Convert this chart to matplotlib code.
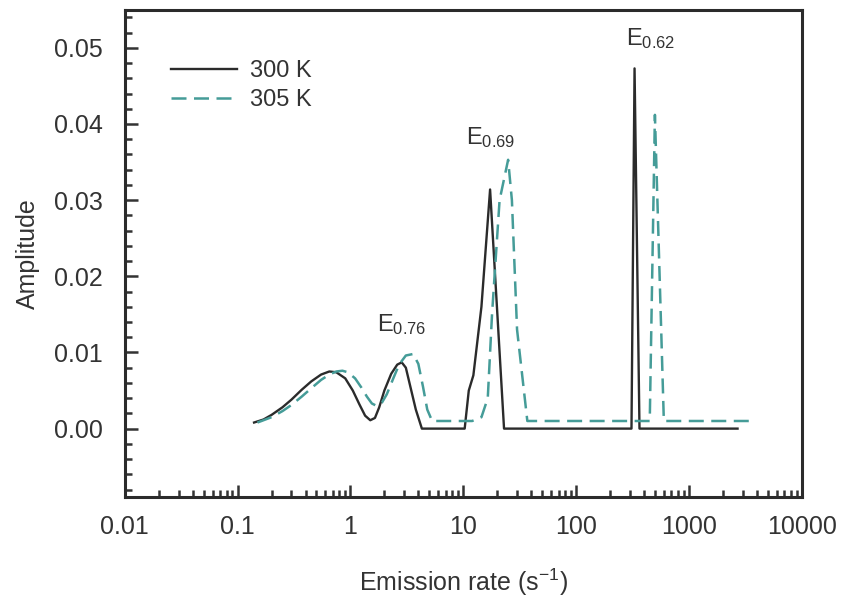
import numpy as np
import matplotlib
matplotlib.use("Agg")
from matplotlib import pyplot as plt
from matplotlib.ticker import (MultipleLocator, LogLocator, FixedLocator,
                               FixedFormatter, NullFormatter, FormatStrFormatter)

# 300 K curve (solid black)
rate_300 = [0.14, 0.17, 0.2, 0.25, 0.3, 0.37, 0.45, 0.55, 0.65, 0.75, 0.9, 1.05,
            1.2, 1.35, 1.5, 1.65, 1.8, 2.0, 2.3, 2.6, 2.85, 3.1, 3.4, 3.8, 4.3,
            10.3, 11.2, 12.3, 14.5, 17.3, 23.0, 310, 330, 365, 2700]
amp_300 = [0.0008, 0.0012, 0.0018, 0.0028, 0.0038, 0.0051, 0.0062, 0.0071, 0.0075,
           0.0074, 0.0066, 0.0050, 0.0032, 0.0017, 0.0011, 0.0014, 0.0028, 0.0050,
           0.0072, 0.0084, 0.0087, 0.0080, 0.0055, 0.0025, 0.0,
           0.0, 0.0050, 0.0070, 0.0160, 0.0314, 0.0, 0.0, 0.0473, 0.0, 0.0]

# 305 K curve (dashed teal)
rate_305 = [0.15, 0.2, 0.25, 0.3, 0.37, 0.45, 0.55, 0.65, 0.75, 0.85, 0.95, 1.1,
            1.25, 1.4, 1.55, 1.7, 1.9, 2.1, 2.4, 2.7, 3.1, 3.6, 4.0, 4.4, 4.8, 5.3,
            12.0, 14.5, 16.5, 18.0, 21.0, 25.0, 27.0, 30.0, 37.0,
            450, 500, 600, 3700]
amp_305 = [0.0008, 0.0015, 0.0023, 0.0031, 0.0042, 0.0053, 0.0064, 0.0071, 0.0075,
           0.0076, 0.0074, 0.0066, 0.0054, 0.0042, 0.0033, 0.0030, 0.0034, 0.0045,
           0.0066, 0.0084, 0.0096, 0.0098, 0.0085, 0.0055, 0.0025, 0.0010,
           0.0010, 0.0015, 0.0040, 0.0150, 0.0300, 0.0353, 0.0300, 0.0130, 0.0010,
           0.0010, 0.0412, 0.0010, 0.0010]

x_ticks = [0.01, 0.1, 1, 10, 100, 1000, 10000]
x_tick_labels = ['0.01', '0.1', '1', '10', '100', '1000', '10000']

peak_labels = ['E$_{0.76}$', 'E$_{0.69}$', 'E$_{0.62}$']
peak_pos = [(1.73, 0.0128), (10.6, 0.0373), (277, 0.0504)]

plt.rcParams['font.family'] = ['Liberation Sans', 'DejaVu Sans']
plt.rcParams['mathtext.fontset'] = 'custom'
plt.rcParams['mathtext.rm'] = 'Liberation Sans'
plt.rcParams['mathtext.it'] = 'Liberation Sans'
text_color = '#333333'

fig = plt.figure(figsize=(8.43, 6.10), dpi=100)
ax = fig.add_axes([0.148, 0.185, 0.803, 0.799])

ax.plot(rate_300, amp_300, color='#2b2b2b', lw=1.7, label='300 K')
ax.plot(rate_305, amp_305, color='#459c98', lw=1.8, dashes=(6, 3), label='305 K')

ax.set_xscale('log')
ax.set_xlim(0.01, 10000)
ax.set_ylim(-0.009, 0.055)

ax.xaxis.set_major_locator(FixedLocator(x_ticks))
ax.xaxis.set_major_formatter(FixedFormatter(x_tick_labels))
ax.xaxis.set_minor_locator(LogLocator(base=10, subs=np.arange(2, 10), numticks=20))
ax.xaxis.set_minor_formatter(NullFormatter())
ax.yaxis.set_major_locator(MultipleLocator(0.01))
ax.yaxis.set_minor_locator(MultipleLocator(0.002))
ax.yaxis.set_major_formatter(FormatStrFormatter('%.2f'))

ax.tick_params(which='both', direction='in', top=False, right=False,
               colors=text_color, labelsize=18, width=1.8)
ax.tick_params(which='major', length=9)
ax.tick_params(axis='y', which='major', pad=16)
ax.tick_params(axis='x', which='major', pad=13)
ax.tick_params(which='minor', length=5)
for s in ax.spines.values():
    s.set_linewidth(2.2)
    s.set_color('#2b2b2b')

ax.set_xlabel('Emission rate (s$^{-1}$)', fontsize=18, color=text_color, labelpad=20)
ax.set_ylabel('Amplitude', fontsize=18, color=text_color, labelpad=10)

for lab, (px, py) in zip(peak_labels, peak_pos):
    ax.text(px, py, lab, fontsize=17, color=text_color, ha='left', va='baseline')

leg = ax.legend(loc='upper left', bbox_to_anchor=(0.068, 0.897), frameon=False,
                borderaxespad=0, borderpad=0, fontsize=17, handlelength=2.8,
                labelspacing=0.3, handletextpad=0.55)
for t in leg.get_texts():
    t.set_color(text_color)

fig.savefig('out.png', dpi=100)
